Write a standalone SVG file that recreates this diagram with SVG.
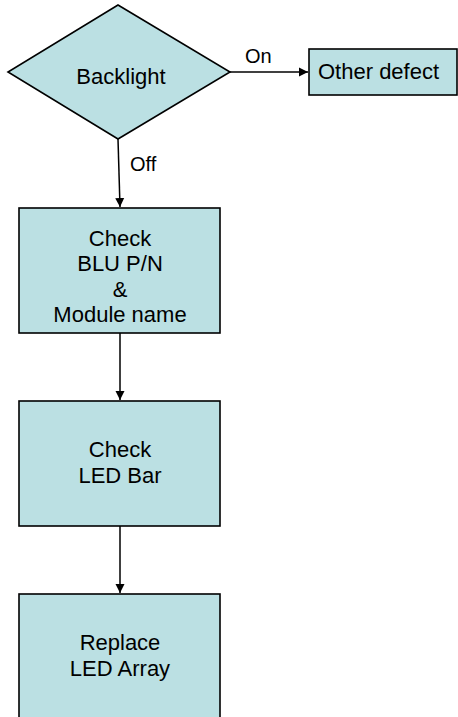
<svg xmlns="http://www.w3.org/2000/svg" width="458" height="717" viewBox="0 0 458 717">
<style>
.n{fill:#BBE0E3;stroke:#000;stroke-width:1.6}
.t{font-family:"Liberation Sans",Arial,sans-serif;font-size:22px;fill:#000;text-anchor:middle}
.l{font-family:"Liberation Sans",Arial,sans-serif;font-size:20px;fill:#000}
.c{stroke:#000;stroke-width:1.5;fill:none;marker-end:url(#a)}
</style>
<defs>
<marker id="a" markerWidth="10" markerHeight="10" refX="9" refY="5" orient="auto" markerUnits="userSpaceOnUse">
<path d="M0,0.5 L9,5 L0,9.5 Z" fill="#000"/>
</marker>
</defs>
<rect width="458" height="717" fill="#fff"/>
<g id="connectors">
<line class="c" x1="230" y1="72" x2="308" y2="72"/>
<line class="c" x1="118" y1="139" x2="120" y2="207"/>
<line class="c" x1="120" y1="333" x2="120" y2="400"/>
<line class="c" x1="120" y1="526" x2="120" y2="593"/>
<text class="l" x="245" y="63">On</text>
<text class="l" x="130" y="171">Off</text>
</g>
<g id="backlight">
<polygon class="n" points="118,5 230,72 118,139 8,72"/>
<text class="t" x="121" y="84">Backlight</text>
</g>
<g id="other-defect">
<rect class="n" x="309" y="49" width="148" height="46"/>
<text class="t" x="318" y="79" style="text-anchor:start">Other defect</text>
</g>
<g id="check-blu">
<rect class="n" x="19" y="208" width="201" height="125"/>
<text class="t" x="120" y="246">Check</text>
<text class="t" x="120" y="271">BLU P/N</text>
<text class="t" x="120" y="297">&amp;</text>
<text class="t" x="120" y="322">Module name</text>
</g>
<g id="check-led">
<rect class="n" x="19" y="401" width="201" height="125"/>
<text class="t" x="120" y="457">Check</text>
<text class="t" x="120" y="483">LED Bar</text>
</g>
<g id="replace-led">
<rect class="n" x="19" y="594" width="201" height="130"/>
<text class="t" x="120" y="650">Replace</text>
<text class="t" x="120" y="676">LED Array</text>
</g>
</svg>
